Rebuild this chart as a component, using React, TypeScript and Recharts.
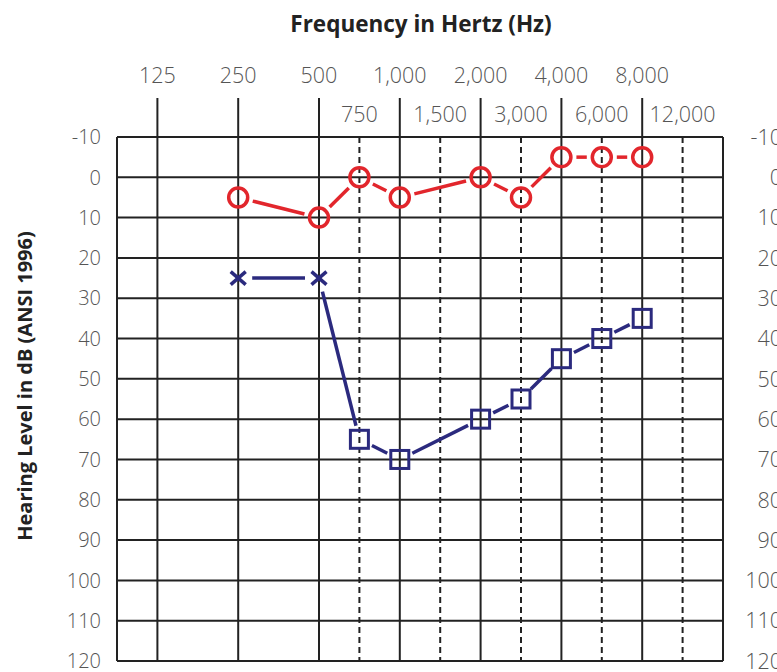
import React from 'react';
import { ComposedChart, Line, XAxis, YAxis, ReferenceLine } from 'recharts';

// Frequency axis (octave positions: 125 Hz = 0, 250 = 1, ... half-octaves at .5)
const freqPositions = [0, 1, 2, 2.5, 3, 3.5, 4, 4.5, 5, 5.5, 6, 6.5];
const freqLabels = ['125', '250', '500', '750', '1,000', '1,500', '2,000', '3,000', '4,000', '6,000', '8,000', '12,000'];
const dbTicks = [-10, 0, 10, 20, 30, 40, 50, 60, 70, 80, 90, 100, 110, 120];

// Test frequencies and thresholds
const testPositions = [1, 2, 2.5, 3, 4, 4.5, 5, 5.5, 6];
const redThresholds = [5, 10, 0, 5, 0, 5, -5, -5, -5];
const blueThresholds = [25, 25, 65, 70, 60, 55, 45, 40, 35];
const blueMarkers = ['x', 'x', 'square', 'square', 'square', 'square', 'square', 'square', 'square'];

const rows = testPositions.map((pos, i) => ({
  pos,
  red: redThresholds[i],
  blue: blueThresholds[i],
  blueMark: blueMarkers[i],
}));

const RED = '#e2262c';
const BLUE = '#2b2a7e';
const GRID = '#222';
const FONT = '"Open Sans", sans-serif';
const Y_TICK_FONT = { fontFamily: FONT, fontSize: 20, fontWeight: 300, fill: '#555' };
const X_TICK_FONT = { fontFamily: FONT, fontSize: 21.5, fontWeight: 300, fill: '#555' };

function FreqTick(props: any) {
  const { x, y, payload } = props;
  const v = payload.value;
  const idx = freqPositions.indexOf(v);
  const label = freqLabels[idx];
  const major = Number.isInteger(v);
  return (
    <g>
      {major && <line x1={x} y1={y} x2={x} y2={y - 39} stroke={GRID} strokeWidth={2} />}
      <text x={x} y={major ? y - 61.5 : y - 23} dy="0.36em" textAnchor="middle" style={X_TICK_FONT}>
        {label}
      </text>
    </g>
  );
}

// left tick labels; the neighbouring (cut-off) audiogram's labels are drawn at the right edge
function DbTick(props: any) {
  const { x, y, payload } = props;
  return (
    <g>
      <text x={x} y={y} dy="0.36em" textAnchor="end" style={Y_TICK_FONT}>
        {payload.value}
      </text>
      <text x={x + 681} y={y} dy="0.36em" textAnchor="end" style={X_TICK_FONT}>
        {payload.value}
      </text>
    </g>
  );
}

function gapShape(gap: number, color: string, width: number) {
  return (p: any) => {
    const { x1, y1, x2, y2 } = p;
    if ([x1, y1, x2, y2].some((n) => typeof n !== 'number' || isNaN(n))) return <g />;
    const dx = x2 - x1;
    const dy = y2 - y1;
    const len = Math.hypot(dx, dy);
    if (len <= 2 * gap) return <g />;
    const ux = dx / len;
    const uy = dy / len;
    return (
      <line
        x1={x1 + ux * gap}
        y1={y1 + uy * gap}
        x2={x2 - ux * gap}
        y2={y2 - uy * gap}
        stroke={color}
        strokeWidth={width}
      />
    );
  };
}

function RedDot(props: any) {
  const { cx, cy, index } = props;
  if (cx == null || cy == null) return <g key={`r${index}`} />;
  return <circle key={`r${index}`} cx={cx} cy={cy} r={9.5} fill="none" stroke={RED} strokeWidth={3.5} />;
}

function BlueDot(props: any) {
  const { cx, cy, index, payload } = props;
  if (cx == null || cy == null) return <g key={`b${index}`} />;
  if (payload.blueMark === 'x') {
    return (
      <g key={`b${index}`}>
        <line x1={cx - 7.5} y1={cy - 6.5} x2={cx + 7.5} y2={cy + 6.5} stroke={BLUE} strokeWidth={3.5} />
        <line x1={cx - 7.5} y1={cy + 6.5} x2={cx + 7.5} y2={cy - 6.5} stroke={BLUE} strokeWidth={3.5} />
      </g>
    );
  }
  return (
    <rect key={`b${index}`} x={cx - 9} y={cy - 9} width={18} height={18} fill="none" stroke={BLUE} strokeWidth={3} />
  );
}

const titleLabel = (props: any) => {
  const vb = props.viewBox || { x: 117, y: 37, width: 606, height: 100 };
  return (
    <text
      x={vb.x + vb.width / 2 + 1}
      y={vb.y - 5}
      textAnchor="middle"
      style={{ fontFamily: FONT, fontSize: 22.5, fontWeight: 700, fill: '#222' }}
    >
      Frequency in Hertz (Hz)
    </text>
  );
};

const yLabel = (props: any) => {
  const vb = props.viewBox || { x: 0, y: 137, width: 117, height: 524 };
  const cx = vb.x + 25;
  const cy = vb.y + vb.height / 2 - 13;
  return (
    <text
      x={cx}
      y={cy}
      dy="0.36em"
      textAnchor="middle"
      transform={`rotate(-90, ${cx}, ${cy})`}
      style={{ fontFamily: FONT, fontSize: 20, fontWeight: 700, fill: '#222' }}
    >
      Hearing Level in dB (ANSI 1996)
    </text>
  );
};

export default function App() {
  const segments = rows.slice(1).map((r, i) => ({ a: rows[i], b: r }));
  return (
    <div style={{ position: 'absolute', left: 0, top: 0, width: 777, height: 672, background: '#fff', overflow: 'hidden' }}>
      <ComposedChart width={777} height={672} data={rows} margin={{ top: 37, right: 0, bottom: 11, left: 0 }}>
        <XAxis
          dataKey="pos"
          type="number"
          orientation="top"
          domain={[-0.5, 7]}
          ticks={freqPositions}
          interval={0}
          height={100}
          axisLine={false}
          tickLine={false}
          tickSize={0}
          tickMargin={0}
          tick={<FreqTick />}
          label={{ content: titleLabel }}
        />
        <YAxis
          type="number"
          domain={[-10, 120]}
          reversed
          ticks={dbTicks}
          interval={0}
          width={117}
          tickSize={0}
          tickMargin={16}
          tickLine={false}
          axisLine={{ stroke: GRID, strokeWidth: 2 }}
          tick={<DbTick />}
          label={{ content: yLabel }}
        />
        <YAxis
          yAxisId="r"
          orientation="right"
          type="number"
          domain={[-10, 120]}
          reversed
          ticks={dbTicks}
          interval={0}
          width={54}
          tickSize={0}
          tickMargin={0}
          tickLine={false}
          axisLine={{ stroke: GRID, strokeWidth: 2 }}
          tick={false}
        />
        {dbTicks.map((t) => (
          <ReferenceLine key={`h${t}`} y={t} stroke={GRID} strokeWidth={2} />
        ))}
        {freqPositions.map((p) => (
          <ReferenceLine
            key={`v${p}`}
            x={p}
            stroke={GRID}
            strokeWidth={2}
            strokeDasharray={Number.isInteger(p) ? undefined : '6 4'}
          />
        ))}
        {segments.map((s, i) => (
          <ReferenceLine
            key={`rs${i}`}
            segment={[{ x: s.a.pos, y: s.a.red }, { x: s.b.pos, y: s.b.red }]}
            stroke={RED}
            strokeWidth={3.5}
            shape={gapShape(15, RED, 3.5)}
          />
        ))}
        {segments.map((s, i) => (
          <ReferenceLine
            key={`bs${i}`}
            segment={[{ x: s.a.pos, y: s.a.blue }, { x: s.b.pos, y: s.b.blue }]}
            stroke={BLUE}
            strokeWidth={3.5}
            shape={gapShape(14, BLUE, 3.5)}
          />
        ))}
        <Line dataKey="red" stroke="none" isAnimationActive={false} dot={RedDot} activeDot={false} />
        <Line dataKey="blue" stroke="none" isAnimationActive={false} dot={BlueDot} activeDot={false} />
      </ComposedChart>
    </div>
  );
}
